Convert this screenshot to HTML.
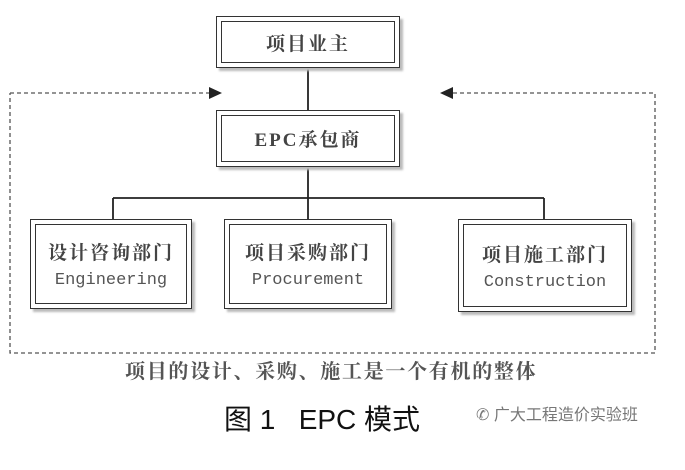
<!DOCTYPE html>
<html><head><meta charset="utf-8"><style>
body{margin:0;width:685px;height:470px;background:#fff;overflow:hidden;position:relative;font-family:"Liberation Serif","Noto Serif CJK SC",serif;}
.b{position:absolute;border:1.5px solid #333;background:#fff;box-shadow:3px 3px 2px #bbb;}
.b>div{position:absolute;left:4px;top:4px;right:4px;bottom:4px;border:1.5px solid #333;display:flex;flex-direction:column;align-items:center;justify-content:center;color:#444;font-size:19px;letter-spacing:2px;font-weight:bold;}
.e{font-family:"Liberation Mono",monospace;font-size:17px;margin-top:6px;color:#555;letter-spacing:0;font-weight:normal;}
.t{position:absolute;white-space:nowrap;}
</style></head><body>
<svg width="685" height="470" style="position:absolute;left:0;top:0">
<path d="M10 93 H216" stroke="#555" stroke-width="1.3" stroke-dasharray="4,3" fill="none"/>
<path d="M446 93 H655 V353 H10 V93" stroke="#555" stroke-width="1.3" stroke-dasharray="4,3" fill="none"/>
<polygon points="222,93 209,87 209,99" fill="#222"/>
<polygon points="440,93 453,87 453,99" fill="#222"/>
<path d="M308 68 V110 M308 167 V219 M113 198 H544 M113 198 V219 M544 198 V219" stroke="#222" stroke-width="1.8" fill="none"/>
</svg>
<div class="b" style="left:216px;top:16px;width:182px;height:50px"><div>项目业主</div></div>
<div class="b" style="left:216px;top:110px;width:182px;height:55px"><div>EPC承包商</div></div>
<div class="b" style="left:30px;top:219px;width:160px;height:88px"><div>设计咨询部门<span class="e">Engineering</span></div></div>
<div class="b" style="left:224px;top:219px;width:166px;height:88px"><div>项目采购部门<span class="e">Procurement</span></div></div>
<div class="b" style="left:458px;top:219px;width:172px;height:91px"><div>项目施工部门<span class="e">Construction</span></div></div>
<div class="t" style="left:125px;top:355px;font-size:20px;color:#555;letter-spacing:1.7px;font-weight:bold">项目的设计、采购、施工是一个有机的整体</div>
<div class="t" style="left:224px;top:398px;font-size:28px;color:#111;font-family:'Liberation Sans','Noto Sans CJK SC',sans-serif">图 1 &nbsp; EPC 模式</div>
<div class="t" style="left:476px;top:401px;font-size:16px;color:#777;font-family:'Liberation Sans','Noto Sans CJK SC',sans-serif">✆ 广大工程造价实验班</div>
</body></html>
